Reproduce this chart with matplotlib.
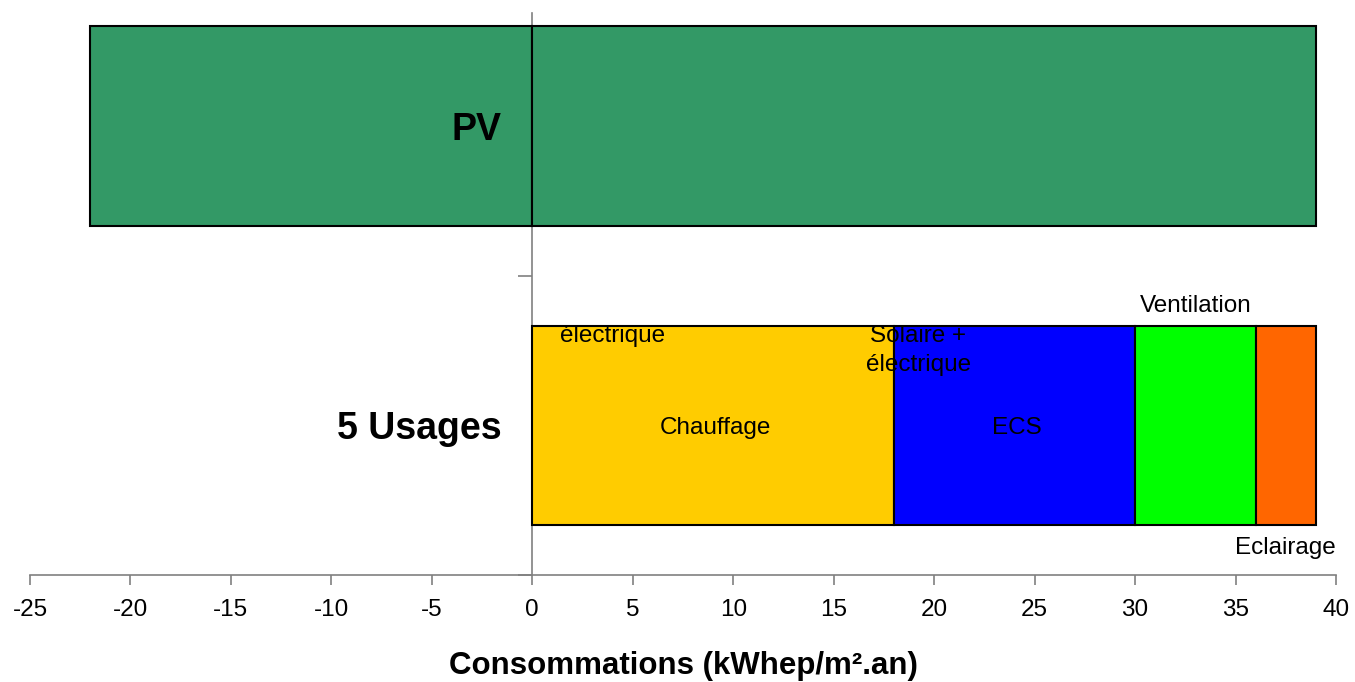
import matplotlib.pyplot as plt

plt.rcParams['font.family'] = ['Liberation Sans', 'DejaVu Sans']

# categories on the vertical axis (bottom to top)
categories = ["5 Usages", "PV"]

# PV production (negative side) and the matching positive part
pv_values = [-22, 39]

# consumption per usage, stacked from zero
usages = ["Chauffage", "ECS", "Ventilation", "Eclairage"]
usage_values = [18, 12, 6, 3]
usage_colors = ["#FFCC00", "#0000FF", "#00FF00", "#FF6600"]

fig = plt.figure(figsize=(13.55, 6.82), dpi=100)
ax = fig.add_axes([30 / 1355, 107 / 682, 1306 / 1355, 562 / 682])

bar_h = 0.667
edge = dict(edgecolor="black", linewidth=1.5)

# PV bar, split at zero
for v in pv_values:
    ax.barh(1, v, height=bar_h, color="#339966", **edge)

# stacked usages
left = 0
for name, v, c in zip(usages, usage_values, usage_colors):
    ax.barh(0, v, left=left, height=bar_h, color=c, **edge)
    left += v

# segment labels
fs = 17.5
ax.text(4.0, 0.30, "électrique", ha="center", va="center", fontsize=fs)
ax.text(9.1, -0.01, "Chauffage", ha="center", va="center", fontsize=fs)
ax.text(19.2, 0.25, "Solaire +\nélectrique", ha="center", va="center",
        fontsize=fs, linespacing=1.4)
ax.text(24.1, -0.01, "ECS", ha="center", va="center", fontsize=fs)
ax.text(33.0, 0.40, "Ventilation", ha="center", va="center", fontsize=fs)
ax.text(37.5, -0.41, "Eclairage", ha="center", va="center", fontsize=fs)

# category names, left of the zero line
for i, cat in enumerate(categories):
    ax.annotate(cat, xy=(0, i), xytext=(-22, 0), textcoords="offset points",
                ha="right", va="center_baseline", fontsize=27,
                fontweight="bold")

ax.set_xlim(-25, 40)
ax.set_ylim(-0.5, 1.378)
ax.set_xticks(range(-25, 41, 5))
ax.set_xticklabels([str(t) for t in range(-25, 41, 5)], fontsize=fs)

# tick marks between categories only
ax.set_yticks([-0.5, 0.5])
ax.set_yticklabels([])
ax.tick_params(axis="y", length=10, color="#808080", width=1.2)
ax.tick_params(axis="x", length=7, color="#808080", width=1.2, pad=10)

ax.spines["left"].set_position(("data", 0))
for s in ("left", "bottom"):
    ax.spines[s].set_color("#808080")
    ax.spines[s].set_linewidth(1.2)
ax.spines["left"].set_zorder(0.5)
ax.spines["top"].set_visible(False)
ax.spines["right"].set_visible(False)

ax.set_xlabel("Consommations (kWhep/m².an)", fontsize=22.5, fontweight="bold",
              labelpad=22)

fig.savefig("out.png", dpi=100)
